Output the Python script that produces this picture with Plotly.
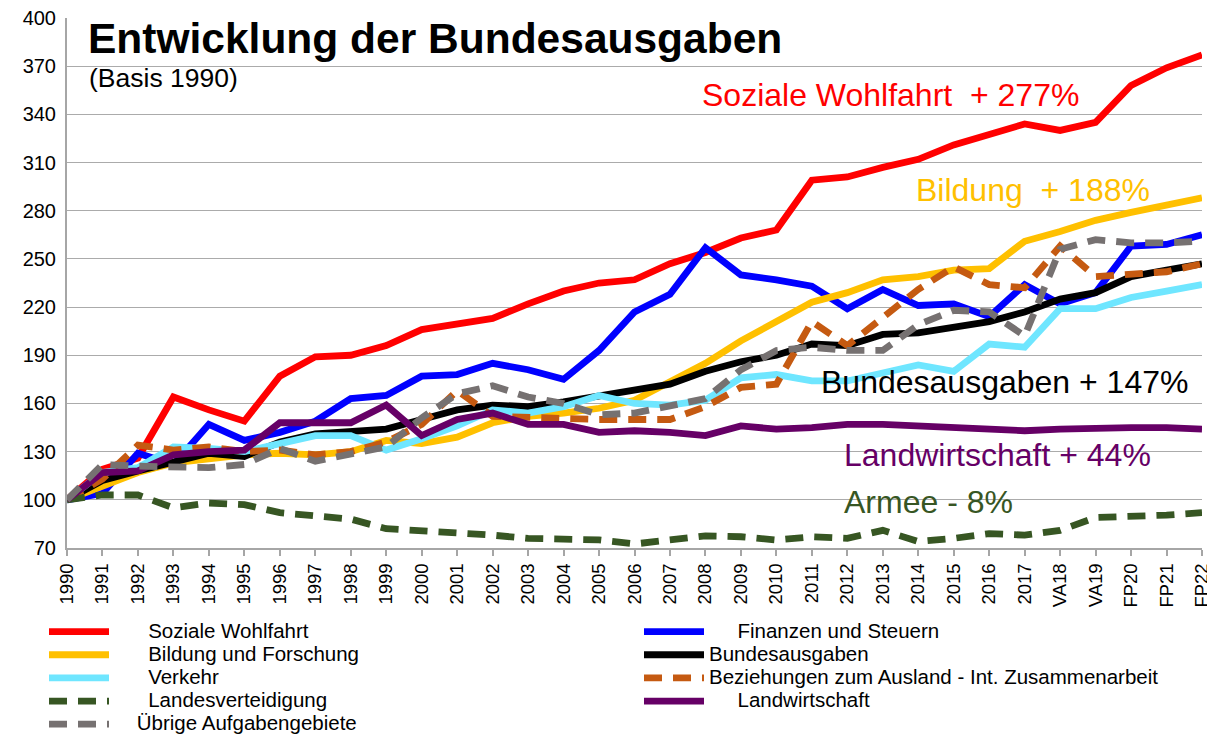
import plotly.graph_objects as go

categories = ["1990", "1991", "1992", "1993", "1994", "1995", "1996", "1997", "1998", "1999",
              "2000", "2001", "2002", "2003", "2004", "2005", "2006", "2007", "2008", "2009",
              "2010", "2011", "2012", "2013", "2014", "2015", "2016", "2017",
              "VA18", "VA19", "FP20", "FP21", "FP22"]

soziale_wohlfahrt = [100, 119, 126, 164, 156, 149, 177, 189, 190, 196, 206, 210, 213, 222, 230, 235, 237,
                     247, 254, 263, 268, 299, 301, 307, 312, 321, 328, 334, 330, 335, 358, 369, 377]
finanzen_steuern = [100, 104, 129, 122, 147, 137, 142, 149, 163, 165, 177, 178, 185, 181, 175, 193, 217,
                    228, 257, 240, 237, 233, 219, 231, 221, 222, 214, 234, 222, 229, 258, 259, 265]
bildung_forschung = [100, 108, 117, 123, 126, 128, 129, 128, 130, 137, 135, 139, 148, 152, 154, 157, 162,
                     173, 185, 199, 211, 223, 229, 237, 239, 243, 244, 261, 267, 274, 279, 283, 288]
bundesausgaben = [100, 112, 118, 124, 129, 127, 136, 141, 143, 144, 150, 156, 159, 158, 161, 165, 168,
                  172, 180, 186, 190, 197, 196, 203, 204, 208, 211, 217, 225, 229, 239, 243, 247]
verkehr = [100, 117, 120, 133, 132, 130, 135, 140, 140, 131, 138, 146, 156, 154, 158, 165, 160,
           159, 162, 176, 178, 174, 174, 179, 184, 180, 197, 195, 219, 219, 226, 230, 234]
beziehungen_ausland = [100, 113, 134, 131, 133, 130, 131, 128, 130, 136, 147, 168, 152, 151, 151, 150, 150,
                       150, 158, 170, 172, 211, 196, 214, 231, 245, 234, 232, 258, 239, 240, 242, 247]
landesverteidigung = [100, 103, 103, 95, 98, 97, 92, 90, 88, 82, 81, 80, 78, 76, 76, 75, 72.5,
                      75, 77.5, 77, 75, 77, 76, 81, 74, 76, 79, 78, 81, 89, 89.5, 90.5, 92]
landwirtschaft = [100, 117, 118, 128, 130, 131, 148, 148, 148, 159, 140, 150, 154, 147, 147, 142, 143,
                  142, 140, 146, 144, 145, 147, 147, 146, 146, 145, 143, 144, 145, 145, 145, 144]
uebrige = [100, 122, 121, 121, 120, 122, 132, 124, 128, 133, 151, 166, 171, 164, 160, 153, 154,
           159, 163, 181, 193, 195, 193, 193, 209, 218, 217, 202, 256, 262, 260, 260, 261]

y_ticks = [70, 100, 130, 160, 190, 220, 250, 280, 310, 340, 370, 400]

NB = "\u00a0"
# (legend name, values, colour, dash, leading blanks as in the original legend)
series = [
    ("Soziale Wohlfahrt", soziale_wohlfahrt, "#FF0000", "solid", 6),
    ("Finanzen und Steuern", finanzen_steuern, "#0000FF", "solid", 5),
    ("Bildung und Forschung", bildung_forschung, "#FFC000", "solid", 6),
    ("Bundesausgaben", bundesausgaben, "#000000", "solid", 0),
    ("Verkehr", verkehr, "#6FE6FF", "solid", 6),
    ("Beziehungen zum Ausland - Int. Zusammenarbeit", beziehungen_ausland, "#C55A11", "18px,11px", 0),
    ("Landesverteidigung", landesverteidigung, "#375623", "18px,11px", 6),
    ("Landwirtschaft", landwirtschaft, "#660066", "solid", 5),
    ("Übrige Aufgabengebiete", uebrige, "#767171", "18px,11px", 4),
]

FONT = "Liberation Sans, Arial, sans-serif"

fig = go.Figure()
for name, vals, color, dash, gap in series:
    fig.add_trace(go.Scatter(
        x=categories, y=vals, mode="lines",
        name='<span style="font-size:20.5px">' + NB * gap + name + "</span>",
        line=dict(color=color, width=6.8, dash=dash),
    ))

# the page body adds an 8 px offset; the figure is sized so that it fills the window exactly
OFF = 8
W, H = 1215 - OFF, 736 - OFF
L, T = 67 - OFF, 18 - OFF
pw = 1135
B = H - (548 - OFF)
R = W - L - pw
ph = H - T - B


def px(xr):
    return (xr - OFF - L) / pw


def py(yr):
    return (H - B - (yr - OFF)) / ph


annotations = [
    dict(text="<b>Entwicklung der Bundesausgaben</b>", x=86, y=39, size=42.5, color="#000000"),
    dict(text="(Basis 1990)", x=87, y=78, size=26.5, color="#000000"),
    dict(text="Soziale Wohlfahrt\u00a0 + 277%", x=700, y=95, size=32, color="#FF0000"),
    dict(text="Bildung\u00a0 + 188%", x=914, y=190, size=32, color="#FFC000"),
    dict(text="Bundesausgaben + 147%", x=819, y=382, size=32, color="#000000"),
    dict(text="Landwirtschaft + 44%", x=842, y=455, size=32, color="#660066"),
    dict(text="Armee - 8%", x=842, y=502, size=32, color="#375623"),
]

fig.update_layout(
    width=W, height=H,
    margin=dict(l=L, r=R, t=T, b=B, autoexpand=False),
    paper_bgcolor="white", plot_bgcolor="white",
    font=dict(family=FONT, color="#000000"),
    showlegend=True,
    legend=dict(
        orientation="h", x=px(44), y=py(615), xanchor="left", yanchor="top",
        entrywidth=520, entrywidthmode="pixels",
        font=dict(size=15.5, family=FONT, color="#000000"),
        itemwidth=60, tracegroupgap=0,
        bgcolor="rgba(0,0,0,0)",
    ),
    annotations=[
        dict(text=a["text"], x=px(a["x"]), y=py(a["y"]), xref="paper", yref="paper",
             xanchor="left", yanchor="middle", showarrow=False,
             font=dict(size=a["size"], color=a["color"], family=FONT))
        for a in annotations
    ],
)

fig.update_xaxes(
    type="category", range=[0, len(categories) - 1],
    showgrid=False, showline=True, linecolor="#A6A6A6", linewidth=2,
    ticks="outside", ticklen=6, tickcolor="#A6A6A6", tickwidth=1.5,
    tickangle=-90, tickfont=dict(size=18.5, family=FONT, color="#000000"),
    zeroline=False, ticklabeloverflow="allow",
)
fig.update_yaxes(
    range=[70, 400], tickvals=y_ticks,
    showgrid=True, gridcolor="#ABABAB", gridwidth=1.3,
    showline=True, linecolor="#A6A6A6", linewidth=2,
    ticks="", ticklabelstandoff=5, tickfont=dict(size=20, family=FONT, color="#000000"),
    zeroline=False, ticklabeloverflow="allow",
)

fig.write_html("out.html")
